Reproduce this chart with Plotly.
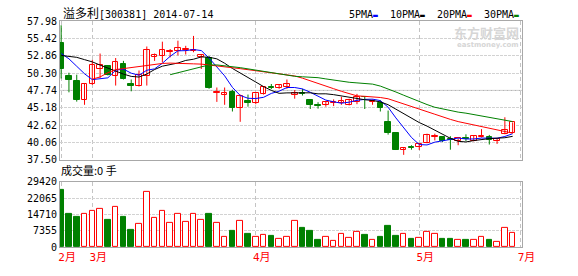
import plotly.graph_objects as go
import pandas as pd

title_name = "溢多利"
title_rest = "[300381] 2014-07-14"
volume_label = "成交量:0 手"

open_ = [54.79, 49.83, 49.12, 46.33, 48.65, 50.92, 51.34, 49.92, 51.62, 48.65,
         48.36, 49.83, 52.71, 52.81, 53.37, 53.61, 53.70, 53.56, 52.60, 52.52,
         47.32, 47.13, 47.51, 45.19, 46.14, 45.90, 47.23, 48.27, 48.08, 48.22,
         47.13, 47.37, 46.28, 45.62, 45.53, 45.90, 45.95, 45.62, 46.09, 46.80,
         46.09, 45.95, 43.02, 41.46, 39.00, 39.43, 39.38, 39.95, 40.80, 40.89,
         40.61, 40.32, 40.70, 40.32, 40.80, 40.89, 40.32, 41.27, 41.46]
high = [57.35, 50.35, 50.06, 48.83, 52.24, 53.18, 51.40, 52.52, 52.10, 49.35,
        50.68, 54.22, 53.18, 54.93, 53.85, 55.08, 54.32, 55.78, 53.04, 52.81,
        48.17, 48.17, 47.84, 47.13, 47.13, 47.32, 48.31, 48.69, 48.65, 49.35,
        47.79, 47.98, 46.42, 46.00, 46.09, 46.42, 46.80, 46.52, 47.23, 46.85,
        46.42, 46.28, 44.77, 41.46, 39.28, 39.66, 39.95, 41.36, 41.36, 40.89,
        40.99, 40.66, 41.27, 41.08, 42.03, 41.18, 40.70, 43.78, 43.02]
low = [49.50, 47.46, 46.09, 45.62, 48.55, 49.59, 49.95, 48.46, 49.35, 47.61,
       48.31, 48.46, 52.10, 51.86, 52.62, 52.90, 53.04, 53.37, 50.90, 47.98,
       46.05, 45.62, 44.63, 43.11, 45.34, 45.71, 47.13, 47.94, 47.98, 47.98,
       46.52, 46.99, 45.00, 45.05, 45.34, 45.43, 45.62, 45.53, 45.71, 45.00,
       45.62, 44.63, 41.22, 38.95, 38.24, 39.00, 38.95, 39.95, 40.37, 40.13,
       39.00, 39.66, 40.28, 40.23, 40.80, 39.76, 39.85, 41.27, 41.46]
close = [50.92, 49.31, 46.28, 48.69, 51.48, 51.48, 50.06, 51.91, 49.50, 48.46,
         49.97, 53.75, 52.90, 53.66, 53.56, 54.04, 53.89, 53.70, 52.90, 48.03,
         47.51, 47.32, 45.19, 46.94, 45.95, 47.32, 48.22, 48.08, 48.55, 48.69,
         47.32, 47.18, 45.62, 45.43, 46.00, 46.09, 46.14, 46.38, 46.80, 46.70,
         46.23, 45.10, 41.46, 38.95, 39.28, 39.24, 39.85, 41.18, 40.99, 40.32,
         40.42, 40.66, 40.51, 40.99, 40.99, 40.42, 40.51, 41.84, 43.02]
volume = [25670, 15000, 13560, 14850, 16440, 17300, 12260, 18170, 13560, 7930,
          10380, 25090, 12980, 16440, 10960, 15140, 11250, 15140, 12110, 14850,
          10960, 4760, 7500, 11680, 5770, 4760, 5620, 4900, 3460, 4760,
          11680, 8800, 7500, 3170, 4760, 2740, 6060, 4330, 6920, 5340,
          3030, 4470, 9660, 4900, 6060, 3600, 4330, 6630, 6060, 3460,
          3460, 3030, 3170, 3030, 4760, 3170, 2160, 8650, 6200]

ma5_head = [53.20, 52.40, 51.30, 50.20]                      # from candle 0
ma10_head = [52.90, 52.80, 52.62, 52.28, 51.95, 51.48, 51.00, 50.63, 50.15]  # from candle 0
ma20_head = [49.40, 49.73, 50.35, 50.82, 50.96, 51.10, 51.29, 51.48, 51.62,
             51.72, 51.77, 51.70, 51.68, 51.66, 51.62, 51.50, 51.40, 51.25,
             51.10, 50.95, 50.80, 50.65, 50.45, 50.30, 50.15]  # from candle 4
ma30_head = [50.06, 50.35, 50.70, 51.00, 51.25, 51.50, 51.50, 51.40, 51.28,
             51.10, 50.92, 50.74, 50.55, 50.36, 50.16]       # from candle 14

month_idx = [0, 4, 25, 46, 59]
month_labels = ["2月", "3月", "4月", "5月", "7月"]
price_ticks = [37.50, 40.06, 42.62, 45.18, 47.74, 50.30, 52.86, 55.42, 57.98]
vol_ticks = [0, 7355, 14710, 22065, 29420]
ma_names = ["5PMA", "10PMA", "20PMA", "30PMA"]
ma_colors = ["#0000ff", "#000000", "#ff0000", "#008000"]

RED = "#ff0000"
GREEN = "#008000"
n = len(close)
xs = list(range(n))
s = pd.Series(close)


def moving(win, head, start):
    rolled = s.rolling(win).mean().tolist()
    out = [None] * n
    for k, v in enumerate(head):
        out[start + k] = v
    for i in range(start + len(head), n):
        if i >= win - 1:
            out[i] = rolled[i]
    return out


mas = [moving(5, ma5_head, 0), moving(10, ma10_head, 0),
       moving(20, ma20_head, 4), moving(30, ma30_head, 14)]

up = [i for i in xs if close[i] >= open_[i]]
dn = [i for i in xs if close[i] < open_[i]]

W, H = 578, 276
ML, MR, MT, MB = 60, 56, 21, 19
PH = H - MT - MB
PW = W - ML - MR


def py(px):
    return (H - MB - px) / PH


def pxx(px):
    return (px - ML) / PW


fig = go.Figure()


def wicks(idx, color):
    wx, wy = [], []
    for i in idx:
        wx += [i, i, None]
        wy += [low[i], high[i], None]
    fig.add_trace(go.Scatter(x=wx, y=wy, mode="lines", line=dict(color=color, width=1),
                             hoverinfo="skip", showlegend=False, xaxis="x", yaxis="y"))


wicks(up, RED)
wicks(dn, GREEN)

fig.add_trace(go.Bar(x=up, y=[max(close[i] - open_[i], 0.06) for i in up],
                     base=[open_[i] for i in up], width=0.72,
                     marker=dict(color="white", line=dict(color=RED, width=1)),
                     hoverinfo="skip", showlegend=False, xaxis="x", yaxis="y"))
fig.add_trace(go.Bar(x=dn, y=[open_[i] - close[i] for i in dn],
                     base=[close[i] for i in dn], width=0.72,
                     marker=dict(color=GREEN, line=dict(color=GREEN, width=1)),
                     hoverinfo="skip", showlegend=False, xaxis="x", yaxis="y"))

for m, c in zip(mas, ma_colors):
    fig.add_trace(go.Scatter(x=xs, y=m, mode="lines", line=dict(color=c, width=1),
                             hoverinfo="skip", showlegend=False, xaxis="x", yaxis="y"))

fig.add_trace(go.Bar(x=up, y=[volume[i] for i in up], width=0.72,
                     marker=dict(color="white", line=dict(color=RED, width=1)),
                     hoverinfo="skip", showlegend=False, xaxis="x2", yaxis="y2"))
fig.add_trace(go.Bar(x=dn, y=[volume[i] for i in dn], width=0.72,
                     marker=dict(color=GREEN, line=dict(color=GREEN, width=1)),
                     hoverinfo="skip", showlegend=False, xaxis="x2", yaxis="y2"))

mono = "DejaVu Sans Mono, Noto Sans CJK SC"
frame = "#a8a8a8"
xr = [-0.15, 59.2]
common_x = dict(range=xr, tickvals=month_idx, showgrid=True, gridcolor="#c4c4c4",
                griddash="4px,3px", gridwidth=1, showline=True, mirror=True,
                linecolor=frame, linewidth=1, zeroline=False, ticks="", fixedrange=True)
common_y = dict(showgrid=True, gridcolor="#d2d2d2", griddash="3px,1px", gridwidth=1,
                showline=True, mirror=True, linecolor=frame, linewidth=1,
                zeroline=False, ticks="", tickfont=dict(family=mono, size=10, color="black"))

legend_text = "\u00a0 ".join(
    f"{nm}<span style='color:{c};font-size:8px'>▬</span>" for nm, c in zip(ma_names, ma_colors))

annotations = [
    dict(text=f"<span style='font-size:12px'>{title_name}</span>{title_rest}",
         xref="paper", yref="paper", x=pxx(61), y=py(14), xanchor="left", yanchor="middle",
         showarrow=False, font=dict(family=mono, size=10, color="black")),
    dict(text=legend_text,
         xref="paper", yref="paper", x=pxx(521), y=py(14), xanchor="right", yanchor="middle",
         showarrow=False, font=dict(family=mono, size=10, color="black")),
    dict(text=volume_label, xref="paper", yref="paper", x=pxx(59), y=py(177),
         xanchor="left", yanchor="middle", showarrow=False,
         font=dict(family="Noto Sans CJK SC", size=11, color="black")),
    dict(text="<b>东方财富网</b>", xref="paper", yref="paper", x=pxx(520), y=py(33),
         xanchor="right", yanchor="middle", showarrow=False, borderpad=0,
         font=dict(family="Noto Sans CJK SC", size=13, color="#d6d6d6")),
    dict(text="<b>eastmoney.com</b>", xref="paper", yref="paper", x=pxx(520), y=py(46),
         xanchor="right", yanchor="middle", showarrow=False, borderpad=0,
         font=dict(family="DejaVu Sans", size=7, color="#d6d6d6")),
]

fig.update_layout(
    width=W, height=H, margin=dict(l=ML, r=MR, t=MT, b=MB),
    paper_bgcolor="white", plot_bgcolor="white", barmode="overlay", bargap=0,
    showlegend=False, hovermode=False,
    xaxis=dict(domain=[0, 1], anchor="y", showticklabels=False, **common_x),
    xaxis2=dict(domain=[0, 1], anchor="y2", ticktext=month_labels, showticklabels=True,
                tickfont=dict(family=mono, size=11, color=RED), ticklabelshift=6,
                **common_x),
    yaxis=dict(domain=[py(166), 1], anchor="x", range=[price_ticks[0], price_ticks[-1]],
               tickvals=price_ticks, ticktext=[f"{v:.2f}" for v in price_ticks], **common_y),
    yaxis2=dict(domain=[0, py(189)], anchor="x2", range=[vol_ticks[0], vol_ticks[-1]],
                tickvals=vol_ticks, ticktext=[str(v) for v in vol_ticks], **common_y),
    shapes=[dict(type="line", xref="paper", yref="y", x0=0, x1=1,
                 y0=price_ticks[len(price_ticks) // 2], y1=price_ticks[len(price_ticks) // 2],
                 line=dict(color="#b0b0b0", width=1), layer="below")],
    annotations=annotations,
)

fig.write_html("out.html")
